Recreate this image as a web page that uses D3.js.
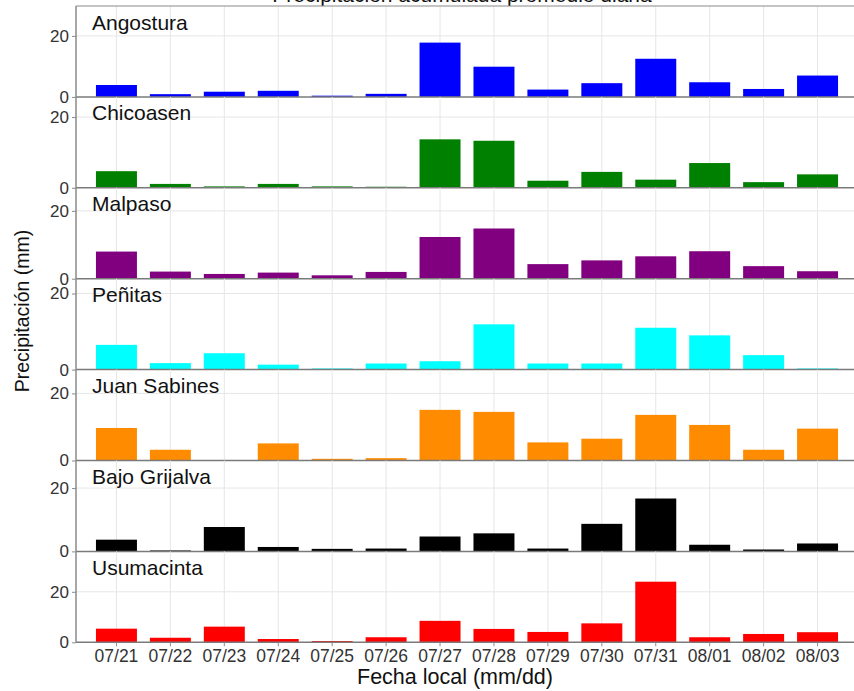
<!DOCTYPE html>
<html lang="es">
<head>
<meta charset="utf-8">
<title>Precipitación acumulada promedio diaria</title>
<script src="https://cdn.jsdelivr.net/npm/d3@7"></script>
<style>
	body { margin: 0; background: #fff; }
	text { font-family: "Liberation Sans", Arial, Helvetica, sans-serif; }
</style>
</head>
<body>
<script>

// fechas (eje x)
var fechas = ["07/21","07/22","07/23","07/24","07/25","07/26","07/27","07/28","07/29","07/30","07/31","08/01","08/02","08/03"];

// cuencas / presas, en orden de los paneles
var cuencas = ["Angostura","Chicoasen","Malpaso","Peñitas","Juan Sabines","Bajo Grijalva","Usumacinta"];
var colores = ["#0000ff","#008000","#800080","#00ffff","#ff8c00","#000000","#ff0000"];

// precipitacion promedio diaria (mm)
var angostura    = [3.9, 0.9, 1.7, 2.0, 0.4, 1.0, 17.8, 9.9, 2.4, 4.5, 12.5, 4.8, 2.6, 7.0];
var chicoasen    = [4.7, 1.1, 0.4, 1.1, 0.4, 0.3, 13.7, 13.3, 2.0, 4.5, 2.3, 7.0, 1.6, 3.8];
var malpaso      = [8.0, 2.1, 1.4, 1.8, 1.0, 2.0, 12.3, 14.8, 4.3, 5.4, 6.6, 8.1, 3.7, 2.2];
var penitas      = [6.5, 1.7, 4.3, 1.3, 0.3, 1.6, 2.2, 11.9, 1.6, 1.6, 11.0, 9.0, 3.8, 0.3];
var juanSabines  = [9.7, 3.2, 0.0, 5.1, 0.5, 0.7, 15.1, 14.5, 5.4, 6.5, 13.6, 10.6, 3.2, 9.5];
var bajoGrijalva = [3.7, 0.3, 7.7, 1.4, 0.8, 0.9, 4.7, 5.7, 0.9, 8.7, 16.7, 2.1, 0.6, 2.5];
var usumacinta   = [5.4, 1.8, 6.2, 1.3, 0.5, 2.0, 8.5, 5.3, 4.1, 7.5, 24.0, 2.0, 3.3, 4.0];

var series = [angostura, chicoasen, malpaso, penitas, juanSabines, bajoGrijalva, usumacinta];
var yTicks = [0, 20];

var titulo = "Precipitación acumulada promedio diaria";
var tituloX = "Fecha local (mm/dd)";
var tituloY = "Precipitación (mm)";

var width = 854, height = 691;
// ojo: "top" choca con window.top
var xIzq = 76, xDer = 858, yArriba = 6, yAbajo = 642.3;
var panelH = (yAbajo - yArriba) / cuencas.length;
var headroom = 12; // espacio arriba de la barra mas alta (unidades de mm)

var svg = d3.select("body").append("svg")
	.attr("width", width)
	.attr("height", height);

var x = d3.scaleBand()
	.domain(fechas)
	.range([xIzq, xDer])
	.paddingInner(0.24)
	.paddingOuter(0.37);

var xc = function(d) { return x(d) + x.bandwidth() / 2; };

// titulo (cortado arriba)
svg.append("text")
	.attr("x", 462)
	.attr("y", 2)
	.attr("text-anchor", "middle")
	.attr("font-size", 21)
	.attr("fill", "#111")
	.text(titulo);

cuencas.forEach(function(nombre, i) {
	var vals = series[i];
	var y0 = yArriba + panelH * i, y1 = y0 + panelH;

	var y = d3.scaleLinear()
		.domain([0, d3.max(vals) + headroom])
		.range([y1, y0]);

	var g = svg.append("g").attr("class", "panel");

	// rejilla
	g.selectAll(".vgrid").data(fechas).enter()
		.append("line")
		.attr("x1", xc).attr("x2", xc)
		.attr("y1", y0).attr("y2", y1)
		.attr("stroke", "#e6e6e6")
		.attr("stroke-width", 1);

	g.selectAll(".hgrid").data(yTicks.slice(1)).enter()
		.append("line")
		.attr("x1", xIzq).attr("x2", xDer)
		.attr("y1", y).attr("y2", y)
		.attr("stroke", "#e6e6e6")
		.attr("stroke-width", 1);

	// barras
	g.selectAll(".bar").data(vals).enter()
		.append("rect")
		.attr("x", function(d, j) { return x(fechas[j]); })
		.attr("width", x.bandwidth())
		.attr("y", function(d) { return y(d); })
		.attr("height", function(d) { return y(0) - y(d); })
		.attr("fill", colores[i]);

	// eje y
	var ay = g.append("g")
		.attr("transform", "translate(" + xIzq + ",0)")
		.call(d3.axisLeft(y).tickValues(yTicks).tickSize(4).tickPadding(3).tickFormat(d3.format("d")));
	ay.select(".domain").remove();
	ay.selectAll("line").attr("stroke", "#8a8a8a");
	ay.selectAll("text")
		.attr("font-size", 17)
		.attr("fill", "#333");

	// linea base del panel
	g.append("line")
		.attr("x1", xIzq).attr("x2", xDer)
		.attr("y1", y(0)).attr("y2", y(0))
		.attr("stroke", "#7a7a7a")
		.attr("stroke-width", 1.5);

	// nombre del panel
	g.append("text")
		.attr("x", 92)
		.attr("y", y0 + 23.5)
		.attr("font-size", 21)
		.attr("fill", "#111")
		.text(nombre);
});

// borde superior e izquierdo
svg.append("line")
	.attr("x1", xIzq).attr("x2", xDer)
	.attr("y1", yArriba).attr("y2", yArriba)
	.attr("stroke", "#8a8a8a").attr("stroke-width", 1.2);
svg.append("line")
	.attr("x1", xIzq).attr("x2", xIzq)
	.attr("y1", yArriba).attr("y2", yAbajo)
	.attr("stroke", "#8a8a8a").attr("stroke-width", 1.5);

// eje x
var ax = svg.append("g")
	.attr("transform", "translate(0," + yAbajo + ")")
	.call(d3.axisBottom(x).tickSize(4).tickPadding(3));
ax.select(".domain").remove();
ax.selectAll("line").attr("stroke", "#8a8a8a");
ax.selectAll("text")
	.attr("font-size", 17.5)
	.attr("fill", "#333");

// titulos de ejes
svg.append("text")
	.attr("x", 455)
	.attr("y", 684)
	.attr("text-anchor", "middle")
	.attr("font-size", 21.5)
	.attr("fill", "#111")
	.text(tituloX);

svg.append("text")
	.attr("transform", "translate(29,311) rotate(-90)")
	.attr("text-anchor", "middle")
	.attr("font-size", 19.5)
	.attr("fill", "#111")
	.text(tituloY);

</script>
</body>
</html>
